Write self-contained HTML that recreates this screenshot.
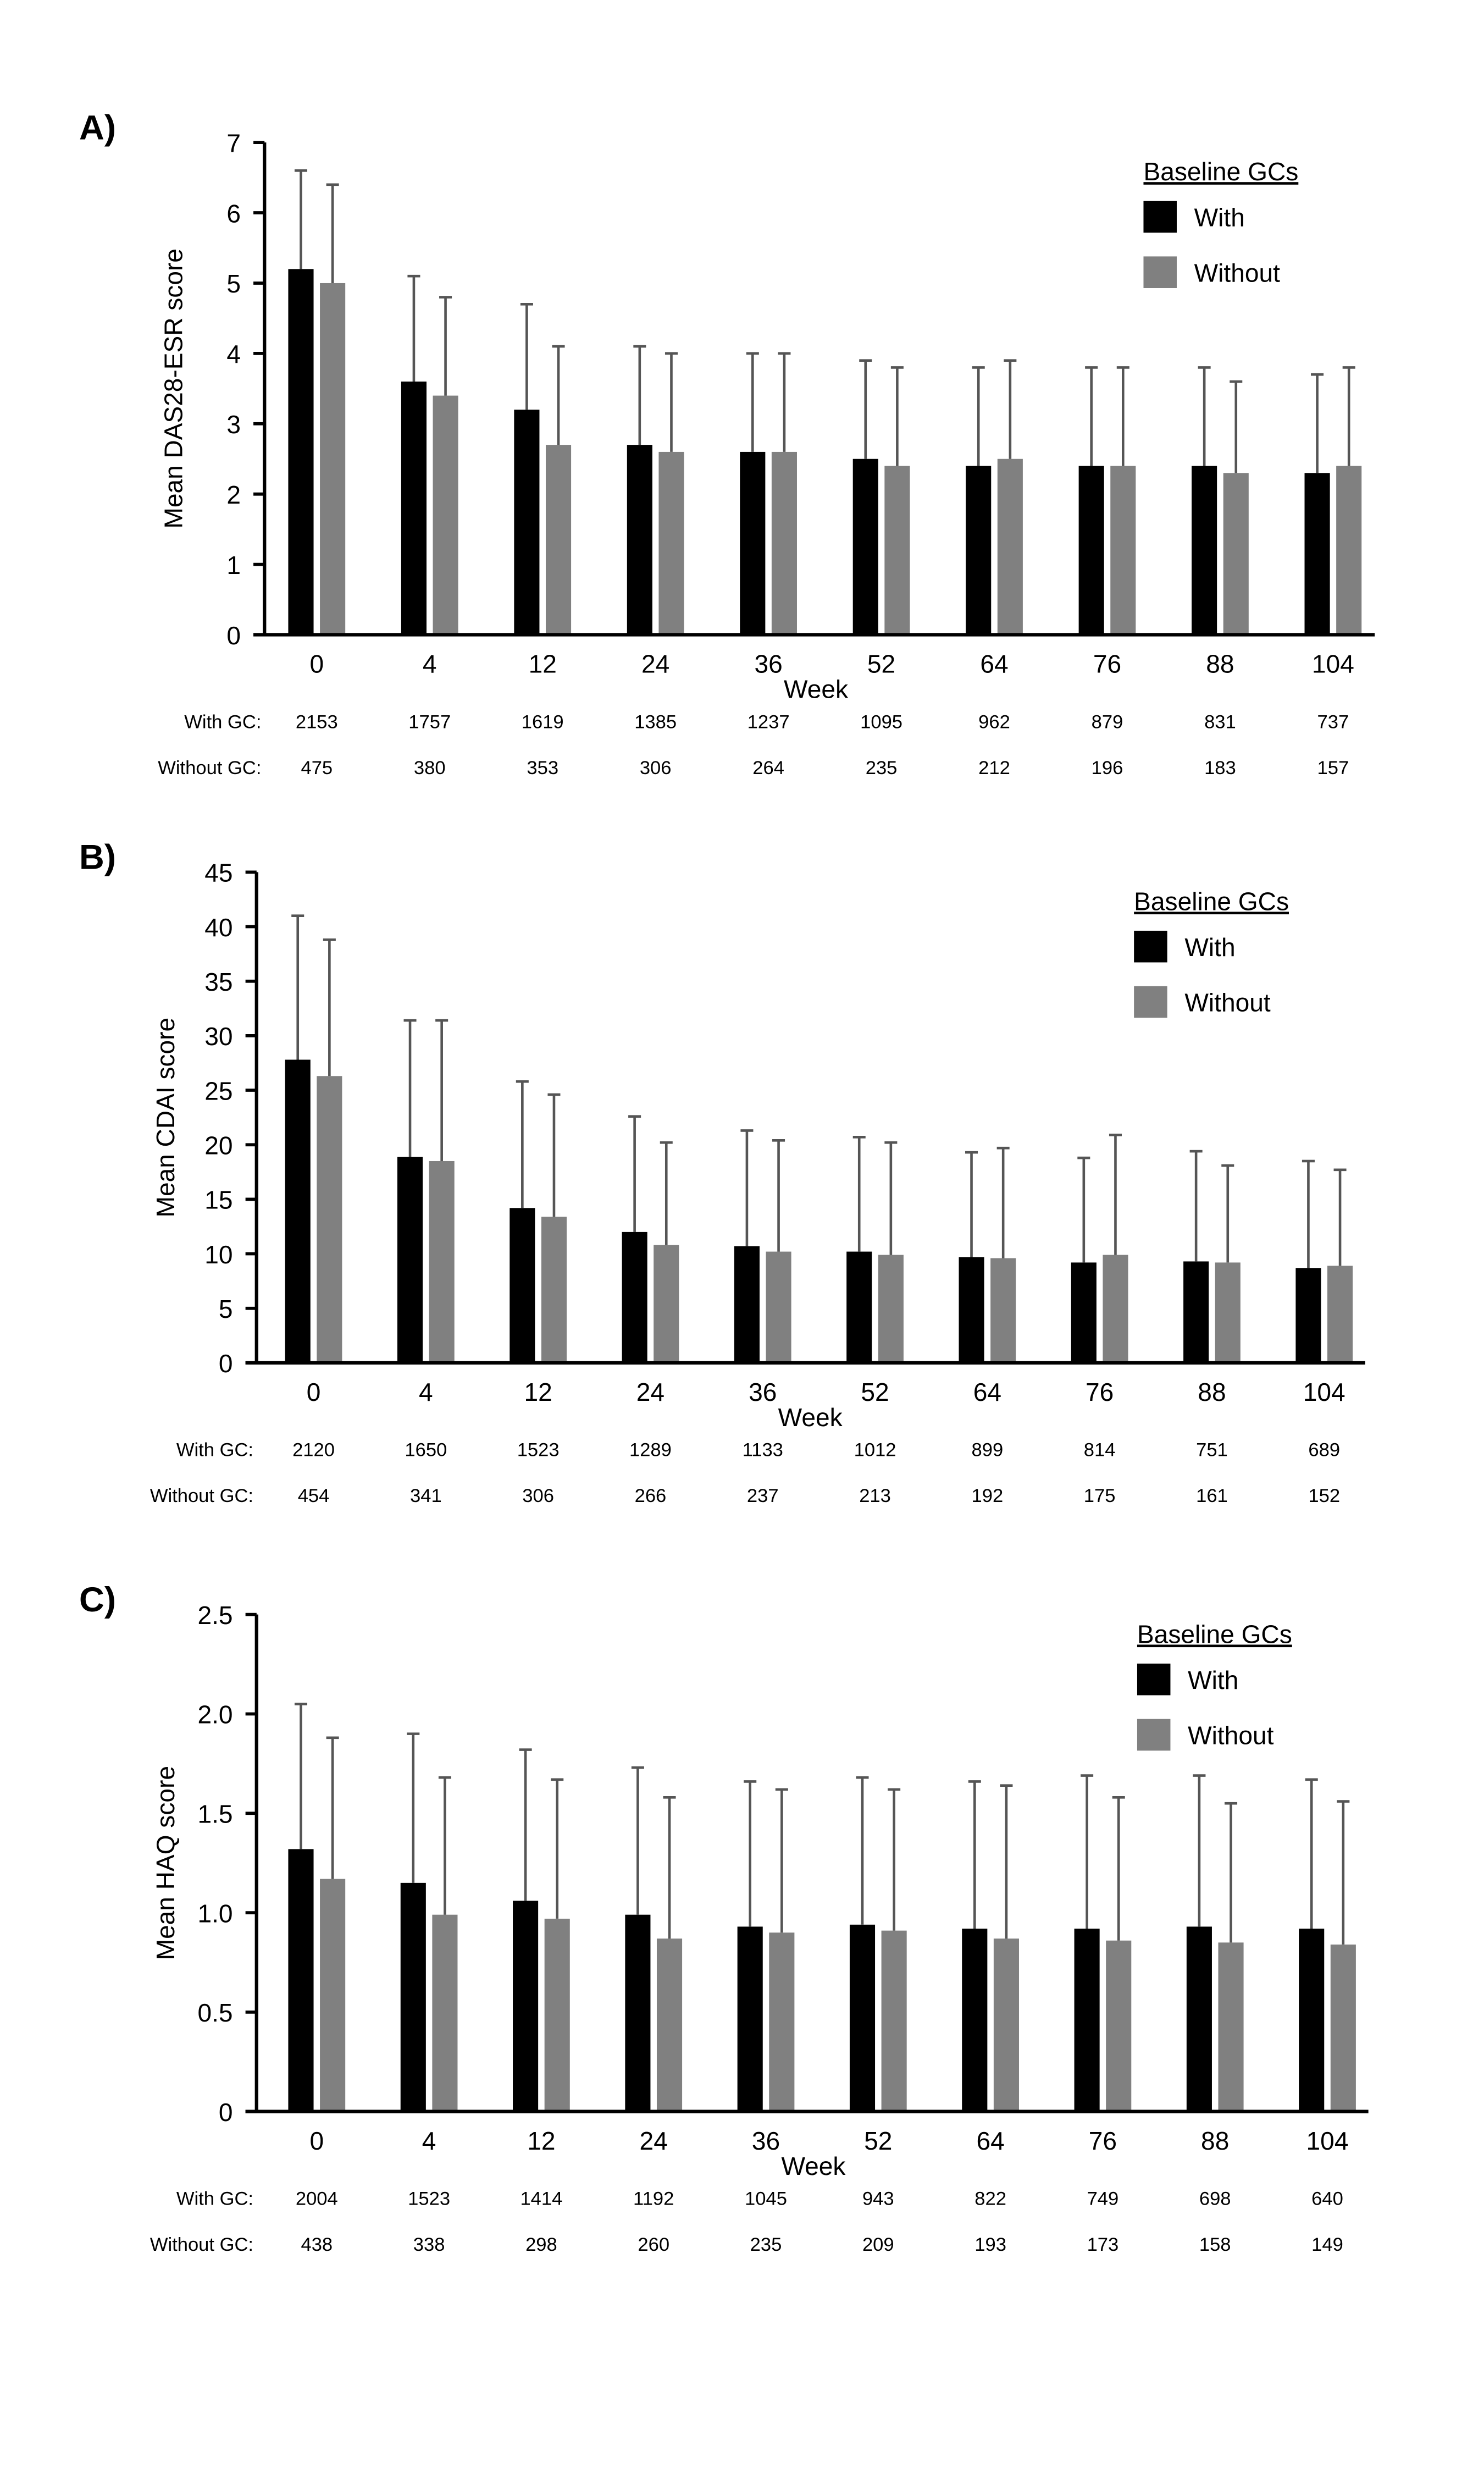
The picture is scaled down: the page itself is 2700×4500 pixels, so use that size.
<!DOCTYPE html>
<html><head><meta charset="utf-8"><style>
html,body{margin:0;padding:0;background:#fff}
svg{display:block}
text{font-family:"Liberation Sans",Arial,sans-serif;fill:#000}
</style></head><body>
<svg id="fig" width="2700" height="4500" viewBox="0 0 937 1563" preserveAspectRatio="none" xmlns="http://www.w3.org/2000/svg"></svg>
<script>
const weeks=["0","4","12","24","36","52","64","76","88","104"];
const aWith=[5.2,3.6,3.2,2.7,2.6,2.5,2.4,2.4,2.4,2.3];
const aWithSD=[1.4,1.5,1.5,1.4,1.4,1.4,1.4,1.4,1.4,1.4];
const aWithout=[5.0,3.4,2.7,2.6,2.6,2.4,2.5,2.4,2.3,2.4];
const aWithoutSD=[1.4,1.4,1.4,1.4,1.4,1.4,1.4,1.4,1.3,1.4];
const aNWith=["2153","1757","1619","1385","1237","1095","962","879","831","737"];
const aNWithout=["475","380","353","306","264","235","212","196","183","157"];
const aTicks=["0","1","2","3","4","5","6","7"];
const bWith=[27.8,18.9,14.2,12.0,10.7,10.2,9.7,9.2,9.3,8.7];
const bWithSD=[13.2,12.5,11.6,10.6,10.6,10.5,9.6,9.6,10.1,9.8];
const bWithout=[26.3,18.5,13.4,10.8,10.2,9.9,9.6,9.9,9.2,8.9];
const bWithoutSD=[12.5,12.9,11.2,9.4,10.2,10.3,10.1,11.0,8.9,8.8];
const bNWith=["2120","1650","1523","1289","1133","1012","899","814","751","689"];
const bNWithout=["454","341","306","266","237","213","192","175","161","152"];
const bTicks=["0","5","10","15","20","25","30","35","40","45"];
const cWith=[1.32,1.15,1.06,0.99,0.93,0.94,0.92,0.92,0.93,0.92];
const cWithSD=[0.73,0.75,0.76,0.74,0.73,0.74,0.74,0.77,0.76,0.75];
const cWithout=[1.17,0.99,0.97,0.87,0.90,0.91,0.87,0.86,0.85,0.84];
const cWithoutSD=[0.71,0.69,0.70,0.71,0.72,0.71,0.77,0.72,0.70,0.72];
const cNWith=["2004","1523","1414","1192","1045","943","822","749","698","640"];
const cNWithout=["438","338","298","260","235","209","193","173","158","149"];
const cTicks=["0","0.5","1.0","1.5","2.0","2.5"];

const NS="http://www.w3.org/2000/svg";
const svg=document.getElementById('fig');
function mk(tag,attrs,parent,txt){const e=document.createElementNS(NS,tag);for(const k in attrs)e.setAttribute(k,attrs[k]);if(txt!==undefined)e.textContent=txt;(parent||svg).appendChild(e);return e;}

function panel(o){
  const g=mk('g',{});
  
  
  const yMax=o.max;
  const y=v=>o.zero-(v/yMax)*(o.zero-o.top);
  const x=i=>o.x0+i*o.step;
  const lab=mk('text',{x:50,y:o.top-2,'font-size':22,'font-weight':'bold'},g,o.label);
  
  
  for(let i=0;i<weeks.length;i++){
    const cx=x(i);
    [[o.w,o.wsd,'#000',cx-18],[o.wo,o.wosd,'#808080',cx+2]].forEach((s,j)=>{
      const v=s[0][i],sd=s[1][i];
      const r=mk('rect',{x:s[3],y:y(v),width:16,height:o.zero-y(v),fill:s[2]},g);
      
      
      const bx=s[3]+8;
      const e=mk('path',{d:`M${bx},${y(v)}V${y(v+sd)}M${bx-4},${y(v+sd)}H${bx+4}`,stroke:'#555',"stroke-width":1.6,fill:'none'},g);
      
      
    });
    const t=mk('text',{x:cx,y:o.zero+24,'font-size':16,'text-anchor':'middle'},g,weeks[i]);
    
    
    const n1=mk('text',{x:cx,y:o.zero+59,'font-size':12,'text-anchor':'middle'},g,o.n1[i]);
    
    
    const n2=mk('text',{x:cx,y:o.zero+88,'font-size':12,'text-anchor':'middle'},g,o.n2[i]);
    
    
  }
  const r1=mk('text',{x:o.ax-2,y:o.zero+59,'font-size':12,'text-anchor':'end'},g,'With GC:');
  
  
  const r2=mk('text',{x:o.ax-2,y:o.zero+88,'font-size':12,'text-anchor':'end'},g,'Without GC:');
  
  
  const ya=mk('path',{d:`M${o.ax},${o.top}V${o.zero}`,stroke:'#000','stroke-width':2.2},g);
  
  
  const xa=mk('path',{d:`M${o.ax-7},${o.zero}H${o.xend}`,stroke:'#000','stroke-width':2.2},g);
  
  
  o.ticks.forEach((tl,k)=>{
    const v=parseFloat(tl);
    const tm=mk('path',{d:`M${o.ax-7},${y(v)}H${o.ax}`,stroke:'#000','stroke-width':2},g);
    
    
    const tt=mk('text',{x:o.ax-15,y:y(v)+6,'font-size':16,'text-anchor':'end'},g,tl);
    
    
  });
  const yt=mk('text',{x:0,y:0,'font-size':16,'text-anchor':'middle',transform:`translate(${o.ax-52},${(o.top+o.zero)/2}) rotate(-90)`},g,o.ytitle);
  
  
  const wk=mk('text',{x:x(4)+30,y:o.zero+40,'font-size':16,'text-anchor':'middle'},g,'Week');
  
  
  const lt=mk('text',{x:o.lx,y:o.ly,'font-size':16,'text-decoration':'underline'},g,'Baseline GCs');
  
  
  [['With','#000',13],['Without','#808080',48]].forEach(it=>{
    const s=mk('rect',{x:o.lx,y:o.ly+it[2],width:21,height:20,fill:it[1]},g);
    
    
    const lt2=mk('text',{x:o.lx+32,y:o.ly+it[2]+16,'font-size':16},g,it[0]);
    
    
  });
}
panel({id:'a',label:'A)',ax:167,xend:868,top:90,zero:401,max:7,x0:200,step:71.3,w:aWith,wsd:aWithSD,wo:aWithout,wosd:aWithoutSD,n1:aNWith,n2:aNWithout,ticks:aTicks,ytitle:'Mean DAS28-ESR score',lx:722,ly:114});
panel({id:'b',label:'B)',ax:162,xend:862,top:551,zero:861,max:45,x0:198,step:70.9,w:bWith,wsd:bWithSD,wo:bWithout,wosd:bWithoutSD,n1:bNWith,n2:bNWithout,ticks:bTicks,ytitle:'Mean CDAI score',lx:716,ly:575});
panel({id:'c',label:'C)',ax:162,xend:864,top:1020,zero:1334,max:2.5,x0:200,step:70.9,w:cWith,wsd:cWithSD,wo:cWithout,wosd:cWithoutSD,n1:cNWith,n2:cNWithout,ticks:cTicks,ytitle:'Mean HAQ score',lx:718,ly:1038});
</script>
</body></html>
